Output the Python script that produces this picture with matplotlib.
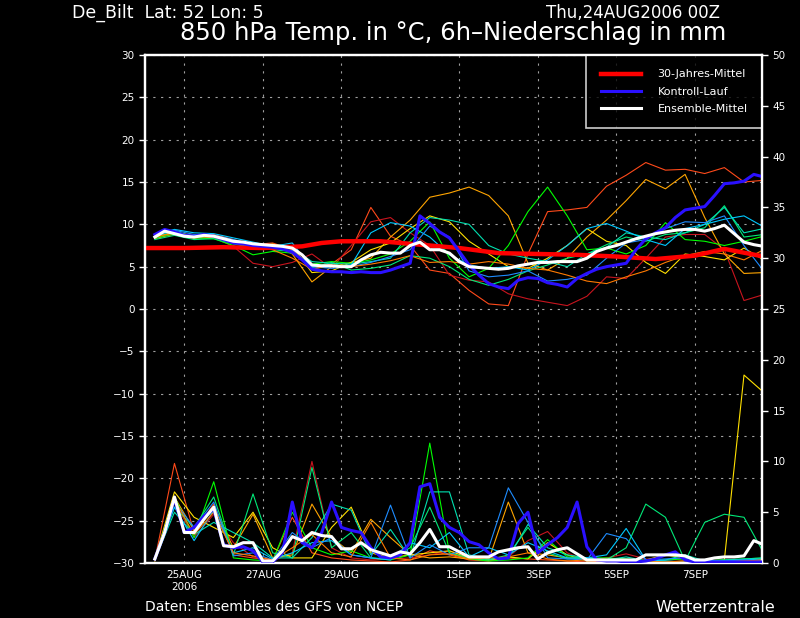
import numpy as np
import matplotlib
matplotlib.use("Agg")
import matplotlib.pyplot as plt

# forecast hours from 24AUG2006 00Z
stunden_6h = list(range(6, 379, 6))
stunden_12h = list(range(6, 379, 12))
stunden_klima = [0, 24, 48, 72, 96, 108, 120, 144, 168, 192, 216, 240, 264, 288, 312, 336, 354, 378]

klima_temp = [7.2, 7.2, 7.3, 7.2, 7.4, 7.8, 8.0, 8.0, 7.6, 7.2, 6.6, 6.5, 6.4, 6.2, 5.9, 6.3, 7.1, 6.2]

mittel_temp = [8.5, 9.2, 8.9, 8.6, 8.5, 8.7, 8.6, 8.3, 8.0, 7.9, 7.7, 7.6, 7.5, 7.4, 7.2, 6.4,
               5.2, 5.1, 5.1, 5.0, 5.0, 5.8, 6.4, 6.7, 6.6, 6.6, 7.5, 7.9, 7.0, 7.0, 6.6, 5.6,
               5.0, 4.9, 4.8, 4.7, 4.8, 5.1, 5.3, 5.5, 5.5, 5.6, 5.6, 5.6, 6.0, 6.8, 7.2, 7.5,
               7.9, 8.3, 8.6, 8.9, 9.1, 9.3, 9.4, 9.4, 9.2, 9.5, 9.9, 8.9, 7.9, 7.6, 7.4]

kontroll_temp = [8.8, 9.4, 9.1, 8.7, 8.6, 8.8, 8.6, 8.2, 7.8, 7.7, 7.5, 7.4, 7.3, 7.1, 6.7, 5.8,
                 4.7, 4.5, 4.4, 4.4, 4.3, 4.4, 4.3, 4.3, 4.6, 5.0, 5.4, 11.0, 10.1, 9.1, 8.4, 6.8,
                 5.2, 4.0, 3.0, 2.6, 2.4, 3.4, 3.7, 3.6, 3.1, 2.9, 2.6, 3.6, 4.2, 4.7, 5.0, 5.2,
                 5.4, 7.0, 8.3, 9.0, 9.6, 10.8, 11.7, 11.9, 12.1, 13.4, 14.8, 14.9, 15.1, 15.9, 15.6]

mittel_nied = [0.4, 3.0, 6.5, 3.0, 3.0, 4.3, 5.5, 1.7, 1.6, 2.0, 2.0, 0.2, 0.2, 1.2, 2.6, 2.2,
               3.0, 2.7, 2.6, 1.4, 1.4, 2.0, 1.3, 1.0, 0.7, 1.1, 0.9, 2.0, 3.3, 1.6, 1.6, 1.1,
               0.6, 0.6, 0.6, 1.1, 1.3, 1.5, 1.6, 0.4, 1.0, 1.3, 1.5, 0.9, 0.3, 0.3, 0.3, 0.3,
               0.3, 0.3, 0.8, 0.8, 0.8, 0.8, 0.7, 0.3, 0.3, 0.5, 0.6, 0.6, 0.7, 2.2, 1.8]

kontroll_nied = [0.4, 3.0, 6.3, 3.0, 3.5, 4.6, 5.3, 1.8, 1.5, 1.6, 1.2, 0.1, 0.1, 1.0, 6.0, 2.0,
                 1.5, 3.0, 6.0, 3.5, 3.2, 3.0, 1.5, 0.6, 0.5, 0.8, 2.0, 7.5, 7.8, 4.5, 3.5, 3.0,
                 2.1, 1.8, 1.0, 0.4, 0.5, 3.9, 5.0, 1.0, 1.8, 2.5, 3.5, 6.0, 1.6, 0.3, 0.2, 0.2,
                 0.1, 0.1, 0.2, 0.4, 0.8, 1.1, 0.3, 0.1, 0.1, 0.1, 0.1, 0.1, 0.1, 0.1, 0.1]

# ensemble members, 12h steps
farben = ['#ff4a1a', '#c8141e', '#ffa500', '#ffe000', '#00ff00',
          '#00e878', '#00e0b0', '#00c8ff', '#1e8cff', '#ff7a00']

member_temp = [
    [8.6, 9.0, 8.7, 8.8, 8.2, 7.6, 7.8, 7.0, 5.0, 5.3, 7.0, 12.0, 8.6, 7.5, 4.6, 4.2,
     2.2, 0.6, 0.4, 6.5, 11.5, 11.7, 12.0, 14.5, 15.8, 17.3, 16.4, 16.5, 16.0, 16.7, 15.0, 15.2],
    [8.4, 8.8, 8.3, 8.4, 7.4, 5.4, 5.0, 5.5, 6.5, 4.8, 7.5, 10.3, 10.8, 9.0, 7.5, 4.0,
     3.4, 3.2, 1.8, 1.2, 0.8, 0.4, 1.5, 3.8, 3.6, 6.0, 8.5, 8.8, 8.8, 7.0, 1.0, 1.7],
    [8.3, 8.9, 8.4, 8.5, 7.8, 7.2, 7.7, 6.5, 3.2, 5.0, 5.5, 6.0, 8.5, 10.5, 13.2, 13.7,
     14.4, 13.4, 11.0, 5.4, 4.6, 6.0, 8.5, 10.5, 12.8, 15.3, 14.2, 15.9, 10.8, 6.5, 4.2, 4.3],
    [8.5, 9.1, 8.6, 8.7, 7.9, 7.3, 7.6, 7.4, 4.3, 4.5, 5.5, 7.0, 7.8, 9.5, 11.0, 10.3,
     8.0, 6.5, 5.0, 4.8, 6.0, 7.5, 9.5, 8.0, 7.5, 5.5, 4.2, 6.5, 6.2, 5.8, 7.2, 5.8],
    [8.4, 8.9, 8.4, 8.3, 7.5, 6.4, 6.8, 6.6, 5.3, 5.6, 5.4, 5.8, 6.5, 8.0, 10.3, 6.0,
     3.8, 4.8, 7.5, 11.5, 14.4, 11.0, 7.0, 7.2, 6.5, 7.5, 10.2, 8.2, 8.0, 7.5, 8.0, 8.6],
    [8.2, 8.7, 8.2, 8.3, 7.7, 7.2, 7.0, 6.8, 4.9, 5.5, 4.6, 4.8, 5.2, 6.3, 6.0, 5.0,
     3.5, 2.8, 3.5, 4.5, 5.2, 6.0, 6.5, 7.6, 8.5, 8.0, 8.8, 9.0, 9.6, 12.2, 8.5, 8.8],
    [8.6, 9.2, 8.5, 8.6, 8.0, 7.4, 7.3, 7.2, 5.6, 5.4, 5.3, 5.6, 6.0, 9.0, 10.8, 10.5,
     10.0, 7.5, 6.5, 6.0, 5.6, 5.0, 6.5, 7.3, 9.0, 8.5, 8.2, 9.0, 10.0, 12.0, 9.0, 9.5],
    [8.8, 9.4, 9.0, 8.9, 8.4, 7.9, 7.4, 7.8, 4.8, 5.0, 5.2, 9.0, 10.2, 9.8, 8.5, 6.4,
     5.2, 4.8, 5.0, 4.6, 5.8, 7.5, 9.5, 10.1, 9.2, 8.2, 7.5, 9.5, 10.0, 10.6, 11.0, 9.7],
    [8.7, 9.3, 8.8, 8.7, 8.2, 7.6, 7.2, 6.9, 5.0, 4.8, 5.0, 5.5, 6.2, 7.0, 9.8, 8.5,
     4.5, 3.8, 4.0, 4.5, 3.3, 3.5, 4.0, 6.0, 7.8, 8.2, 9.5, 10.3, 10.2, 11.0, 7.5, 4.5],
    [8.5, 9.0, 8.6, 8.5, 7.9, 7.5, 7.0, 6.0, 4.7, 5.2, 5.0, 5.3, 5.7, 6.3, 5.5, 5.6,
     5.3, 5.6, 5.3, 4.8, 4.6, 4.0, 3.3, 3.0, 3.8, 4.5, 5.5, 6.3, 6.8, 6.5, 5.8, 7.0],
]

member_nied = [
    [0.3, 9.8, 3.0, 5.8, 0.8, 0.5, 0.3, 4.5, 1.0, 0.5, 0.3, 0.2, 0.1, 0.3, 1.2, 0.8,
     0.3, 0.2, 0.5, 0.4, 0.3, 0.2, 0.1, 0.2, 0.1, 0.1, 0.0, 0.1, 0.1, 0.2, 0.1, 0.3],
    [0.2, 6.0, 2.5, 4.8, 2.0, 0.6, 0.2, 1.0, 10.0, 1.5, 0.5, 0.3, 0.4, 0.5, 0.8, 1.2,
     0.5, 0.3, 0.6, 2.2, 3.1, 1.0, 0.2, 0.5, 0.9, 0.4, 0.2, 0.1, 0.2, 0.1, 0.2, 0.3],
    [0.3, 6.5, 3.2, 5.5, 1.5, 4.8, 0.5, 0.8, 5.8, 2.5, 1.0, 4.3, 2.5, 0.8, 0.5, 0.6,
     0.4, 0.3, 6.0, 1.0, 0.8, 0.5, 0.3, 0.3, 0.2, 0.2, 0.1, 0.2, 0.2, 0.1, 0.2, 0.3],
    [0.4, 7.0, 4.5, 3.5, 2.5, 5.0, 1.5, 0.5, 0.5, 3.5, 5.5, 1.0, 0.5, 0.8, 1.0, 1.2,
     0.5, 0.3, 0.6, 0.4, 2.0, 0.8, 0.2, 0.3, 0.2, 0.3, 0.8, 0.5, 0.2, 0.3, 18.5, 16.8],
    [0.3, 6.5, 2.5, 8.0, 0.5, 0.3, 0.2, 5.0, 1.5, 0.8, 1.2, 0.5, 0.3, 0.8, 11.8, 1.0,
     0.4, 0.2, 0.3, 0.5, 2.3, 0.6, 0.5, 0.5, 0.4, 0.2, 0.3, 0.4, 0.2, 0.3, 0.4, 0.5],
    [0.2, 5.5, 3.5, 6.5, 0.8, 6.8, 1.0, 0.5, 9.4, 1.5, 3.0, 0.5, 0.4, 1.5, 5.5, 1.0,
     0.5, 0.3, 0.8, 3.5, 1.0, 0.4, 0.5, 0.3, 1.5, 5.8, 4.5, 0.2, 4.0, 4.8, 4.5, 1.0],
    [0.3, 5.0, 2.8, 4.0, 3.0, 2.0, 0.5, 0.5, 2.5, 5.8, 5.2, 0.8, 3.3, 0.5, 7.0, 7.0,
     0.8, 0.4, 0.5, 3.8, 1.5, 0.8, 0.5, 0.3, 0.6, 0.2, 0.3, 0.8, 0.2, 0.3, 0.4, 0.5],
    [0.4, 5.5, 2.2, 5.2, 1.0, 1.5, 0.4, 1.0, 2.0, 2.2, 0.8, 0.5, 0.3, 2.0, 1.5, 3.0,
     0.6, 1.5, 0.8, 2.0, 1.2, 0.5, 0.5, 0.8, 3.4, 0.3, 0.2, 0.1, 0.3, 0.2, 0.3, 0.4],
    [0.3, 6.0, 3.5, 6.0, 0.7, 1.0, 0.3, 3.0, 1.5, 2.5, 0.8, 0.5, 5.7, 0.5, 1.8, 0.8,
     1.5, 1.5, 7.4, 4.0, 0.5, 0.4, 0.3, 2.9, 2.4, 0.3, 0.4, 0.5, 0.2, 0.2, 0.3, 0.2],
    [0.2, 6.2, 2.8, 5.0, 1.0, 0.7, 0.3, 1.5, 2.8, 1.0, 0.6, 4.0, 0.5, 0.3, 0.8, 0.9,
     0.4, 0.5, 0.6, 1.0, 0.4, 0.2, 0.3, 0.2, 0.2, 0.1, 0.1, 0.2, 0.1, 0.1, 0.2, 0.3],
]

tick_stunden = [24, 72, 120, 192, 240, 288, 336]
tick_namen = ['25AUG\n2006', '27AUG', '29AUG', '1SEP', '3SEP', '5SEP', '7SEP']

fig = plt.figure(figsize=(8, 6.18), dpi=100, facecolor='black')
ax = fig.add_axes([145/800, 55/618, 617/800, 508/618], facecolor='black')
ax2 = ax.twinx()

for i in range(len(farben)):
    ax.plot(stunden_12h, member_temp[i], color=farben[i], lw=0.8, zorder=2)
    ax2.plot(stunden_12h, member_nied[i], color=farben[i], lw=0.8, zorder=2)

ax.plot(stunden_klima, klima_temp, color='#ff0000', lw=3.2, zorder=4, label='30-Jahres-Mittel')
ax.plot(stunden_6h, kontroll_temp, color='#2a10ff', lw=2.2, zorder=5, label='Kontroll-Lauf')
ax.plot(stunden_6h, mittel_temp, color='white', lw=2.2, zorder=6, label='Ensemble-Mittel')
ax2.plot(stunden_6h, kontroll_nied, color='#2a10ff', lw=2.2, zorder=5)
ax2.plot(stunden_6h, mittel_nied, color='white', lw=2.2, zorder=6)

ax.set_xlim(0, 377)
ax.set_ylim(-30, 30)
ax2.set_ylim(0, 50)
ax.set_yticks(range(-30, 31, 5))
ax2.set_yticks(range(0, 51, 5))
ax.set_xticks(tick_stunden)
ax.set_xticklabels(tick_namen)

ax.grid(True, color='#a0a0a0', linestyle=(0, (2, 5)), linewidth=0.8)
ax.set_axisbelow(True)
for a in (ax, ax2):
    for s in a.spines.values():
        s.set_color('white')
        s.set_linewidth(1.6)
    a.tick_params(colors='white', labelsize=7.5, length=4, width=1)
ax.tick_params(axis='x', length=0, pad=5)

leg = ax.legend(loc='upper right', fontsize=8, frameon=True, facecolor='black',
                edgecolor='white', labelcolor='white', handlelength=3.6,
                handletextpad=1.5, borderpad=1.3, labelspacing=0.65, fancybox=False,
                borderaxespad=0)
leg.get_frame().set_linewidth(1.2)
leg.set_zorder(10)

fig.text(72/800, 1 - 13/618, 'De_Bilt  Lat: 52 Lon: 5', color='white', fontsize=12.5, va='center', ha='left')
fig.text(720/800, 1 - 13/618, 'Thu,24AUG2006 00Z', color='white', fontsize=12, va='center', ha='right')
fig.text(453/800, 1 - 33/618, '850 hPa Temp. in °C, 6h\u2013Niederschlag in mm', color='white',
         fontsize=17.5, va='center', ha='center')
fig.text(145/800, 1 - 607/618, 'Daten: Ensembles des GFS von NCEP', color='white', fontsize=10, va='center', ha='left')
fig.text(775/800, 1 - 607/618, 'Wetterzentrale', color='white', fontsize=11.5, va='center', ha='right')

fig.savefig('out.png', dpi=100, facecolor='black')
